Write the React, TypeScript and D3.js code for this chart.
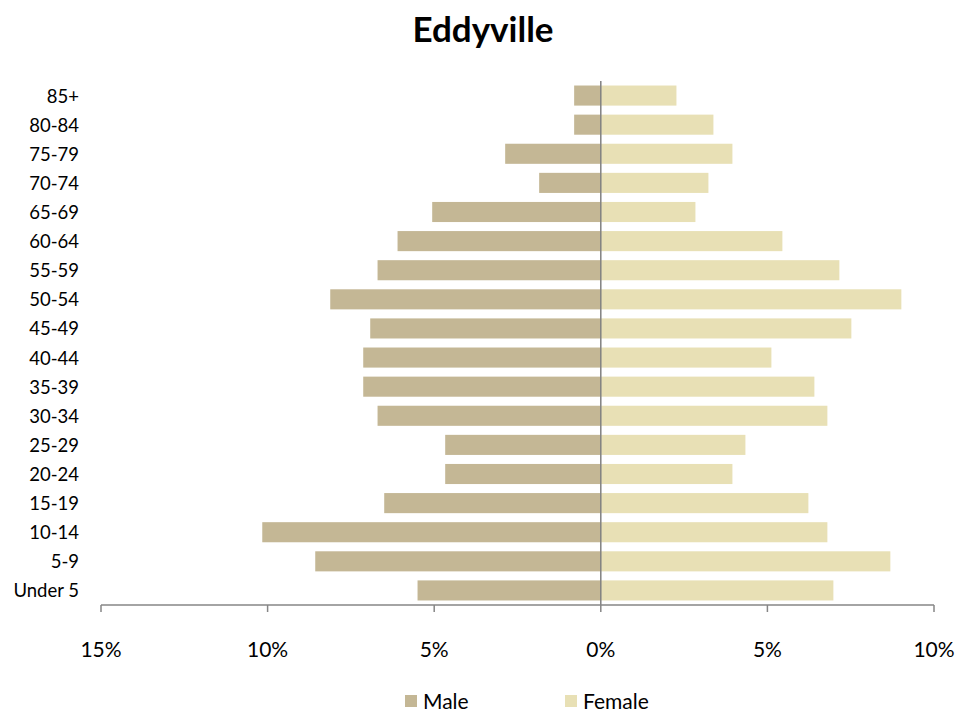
import React from "react";
import * as d3 from "d3";

const categories = ["85+","80-84","75-79","70-74","65-69","60-64","55-59","50-54","45-49","40-44","35-39","30-34","25-29","20-24","15-19","10-14","5-9","Under 5"];
const maleValues = [0.8,0.8,2.87,1.85,5.06,6.1,6.7,8.12,6.92,7.13,7.13,6.7,4.67,4.67,6.5,10.16,8.57,5.5];
const femaleValues = [2.27,3.38,3.95,3.23,2.84,5.45,7.16,9.02,7.52,5.12,6.41,6.8,4.34,3.95,6.23,6.8,8.69,6.98];
const xTicks = [-15,-10,-5,0,5,10];
const seriesNames = ["Male","Female"];

const W = 961, H = 713;
const FONT = "Lato, 'Open Sans', sans-serif";
const MALE_C = "#C4B795";
const FEMALE_C = "#E8E0B5";

export default function App() {
  const x = d3.scaleLinear().domain([-15, 10]).range([101, 934]);
  const y = d3.scaleBand<string>().domain(categories).range([81, 605]).paddingInner(0.31).paddingOuter(0.155);
  const bh = y.bandwidth();
  return (
    <svg width={W} height={H} style={{ position: "absolute", left: 0, top: 0 }} fontFamily={FONT}>
      <rect width={W} height={H} fill="#fff" />
      <text x={483} y={42} textAnchor="middle" fontSize={35} fontWeight="bold" fill="#000">Eddyville</text>
      {categories.map((c, i) => (
        <g key={c}>
          <rect x={x(-maleValues[i])} y={y(c)!} width={x(0) - x(-maleValues[i])} height={bh} fill={MALE_C} />
          <rect x={x(0)} y={y(c)!} width={x(femaleValues[i]) - x(0)} height={bh} fill={FEMALE_C} />
          <text x={79} y={y(c)! + bh / 2} textAnchor="end" dominantBaseline="central" fontSize={18.5} fill="#000">{c}</text>
        </g>
      ))}
      <line x1={x(0)} x2={x(0)} y1={81} y2={605} stroke="#808080" strokeWidth={1.5} />
      <line x1={x(-15)} x2={x(10)} y1={605} y2={605} stroke="#868686" strokeWidth={1.5} />
      {xTicks.map(t => (
        <g key={t}>
          <line x1={x(t)} x2={x(t)} y1={605} y2={612} stroke="#868686" strokeWidth={1.5} />
          <text x={x(t)} y={648} textAnchor="middle" dominantBaseline="central" fontSize={21} fill="#000">{Math.abs(t)}%</text>
        </g>
      ))}
      {seriesNames.map((s, i) => {
        const lx = i === 0 ? 405 : 565;
        return (
          <g key={s}>
            <rect x={lx} y={695} width={12} height={12} fill={i === 0 ? MALE_C : FEMALE_C} />
            <text x={lx + 18} y={700} dominantBaseline="central" fontSize={21} fill="#000">{s}</text>
          </g>
        );
      })}
    </svg>
  );
}
